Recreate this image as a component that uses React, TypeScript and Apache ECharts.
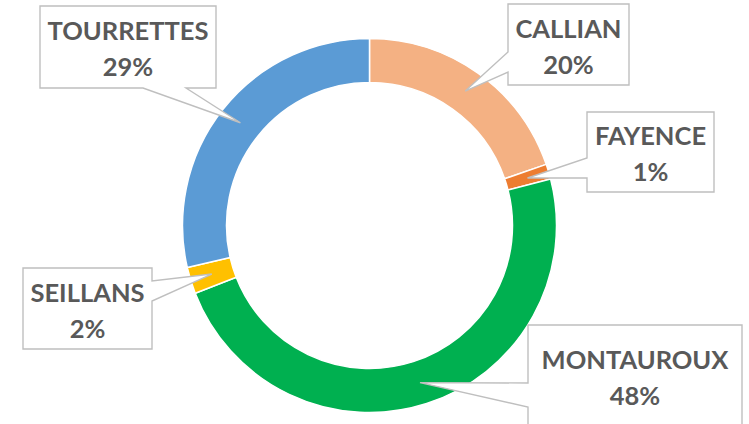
import React, { useEffect, useRef } from "react";
import * as echarts from "echarts";

// ---- data (shares in %, read from the ring's slice boundaries) ----
const categories: string[] = ["CALLIAN", "FAYENCE", "MONTAUROUX", "SEILLANS", "TOURRETTES"];
const values: number[] = [19.7, 1.3, 48.1, 2.3, 28.6];
const colors: string[] = ["#F4B183", "#ED7D31", "#00B050", "#FFC000", "#5B9BD5"];

// ---- callout frame layout (label boxes, same order as categories) ----
type Callout = { box: number[]; side: "left" | "right" | "bottom"; base: number[] };
const callouts: Callout[] = [
  { box: [508, 4, 629, 85], side: "left", base: [52, 72] },
  { box: [587, 112, 714, 192], side: "left", base: [158, 178] },
  { box: [528, 325, 742, 427], side: "left", base: [383, 407] },
  { box: [23, 268, 152, 349], side: "right", base: [281, 301] },
  { box: [40, 6, 216, 88], side: "bottom", base: [143, 186] },
];

const CENTER = [369.5, 225.5];
const R_IN = 143;
const R_OUT = 187;
const FRAME = "#BFBFBF";
const TEXT = "#595959";

function anchorFor(i: number): number[] {
  const total = values.reduce((a, b) => a + b, 0);
  let cum = 0;
  for (let k = 0; k < i; k++) cum += values[k];
  const mid = (cum + values[i] / 2) / total;
  const ang = ((90 - 360 * mid) * Math.PI) / 180;
  const r = (R_IN + R_OUT) / 2;
  return [CENTER[0] + r * Math.cos(ang), CENTER[1] - r * Math.sin(ang)];
}

function calloutPoints(c: Callout, a: number[]): number[][] {
  const [x0, y0, x1, y1] = c.box;
  const [p, q] = c.base;
  const pts: number[][] = [[x0, y0], [x1, y0]];
  if (c.side === "right") pts.push([x1, p], a, [x1, q]);
  pts.push([x1, y1]);
  if (c.side === "bottom") pts.push([q, y1], a, [p, y1]);
  pts.push([x0, y1]);
  if (c.side === "left") pts.push([x0, q], a, [x0, p]);
  return pts;
}

export default function App() {
  const ref = useRef<HTMLDivElement>(null);
  useEffect(() => {
    if (!ref.current) return;
    const chart = echarts.init(ref.current, undefined, { renderer: "svg" });
    const data = categories.map((name, i) => ({
      name,
      value: values[i],
      itemStyle: { color: colors[i] },
    }));
    const option: any = {
      animation: false,
      backgroundColor: "#ffffff",
      graphic: callouts.map((c, i) => ({
        type: "polygon",
        z: 5,
        silent: true,
        shape: { points: calloutPoints(c, anchorFor(i)) },
        style: { fill: "#ffffff", stroke: FRAME, lineWidth: 1.4 },
      })),
      series: [
        {
          type: "pie",
          z: 1,
          center: CENTER,
          radius: [R_IN, R_OUT],
          startAngle: 90,
          clockwise: true,
          silent: true,
          label: { show: false },
          labelLine: { show: false },
          itemStyle: { borderColor: "#ffffff", borderWidth: 1.5 },
          data,
        },
        {
          type: "pie",
          z: 10,
          center: CENTER,
          radius: [R_IN, R_OUT],
          startAngle: 90,
          clockwise: true,
          silent: true,
          percentPrecision: 0,
          avoidLabelOverlap: false,
          itemStyle: { color: "transparent", borderWidth: 0 },
          label: {
            show: true,
            position: "outside",
            formatter: "{b}\n{d}%",
            color: TEXT,
            fontFamily: "Lato",
            fontWeight: "bold",
            fontSize: 25.5,
            lineHeight: 36,
            align: "center",
          },
          labelLine: { show: false },
          labelLayout: (params: any) => {
            const c = callouts[params.dataIndex];
            const [x0, y0, x1, y1] = c.box;
            return {
              x: (x0 + x1) / 2,
              y: (y0 + y1) / 2 + 1,
              align: "center",
              verticalAlign: "middle",
            };
          },
          data: categories.map((name, i) => ({ name, value: values[i] })),
        },
      ],
    };
    chart.setOption(option);
    return () => chart.dispose();
  }, []);
  return (
    <div
      ref={ref}
      style={{ position: "absolute", left: 0, top: 0, width: 749, height: 424 }}
    />
  );
}
